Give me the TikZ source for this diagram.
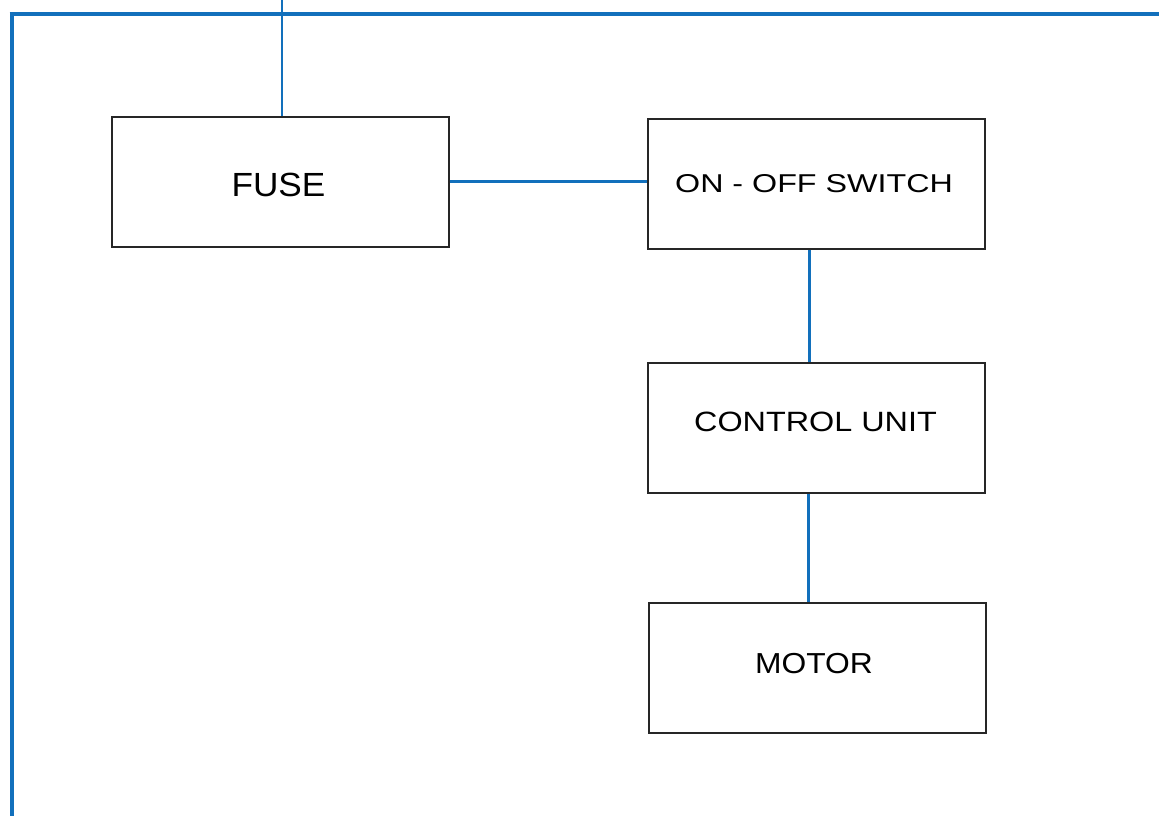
\documentclass[tikz,border=0pt]{standalone}
\usepackage{fontspec}
\setmainfont{Liberation Sans}
\newfontfamily\fuseFont[FakeStretch=1.05]{Liberation Sans}
\newfontfamily\swFont[FakeStretch=1.25]{Liberation Sans}
\newfontfamily\cuFont[FakeStretch=1.16]{Liberation Sans}
\newfontfamily\moFont[FakeStretch=1.10]{Liberation Sans}
\definecolor{wire}{RGB}{18,112,188}
\tikzset{
  blockbox/.style={draw=black!85, line width=2pt, minimum width=337pt, minimum height=130pt, inner sep=0pt},
  blocktext/.style={anchor=base, inner sep=0pt, text=black},
  wireline/.style={draw=wire, line width=3pt},
  frameline/.style={draw=wire, line width=4.5pt},
}
\begin{document}
\begin{tikzpicture}[x=1pt,y=-1pt]
\useasboundingbox (0,0) rectangle (1159,816);
\fill[white] (0,0) rectangle (1159,816);
% blocks
\node[blockbox] (fuse) at (280,181.5) {};
\node[blockbox] (sw) at (816.5,183.5) {};
\node[blockbox] (cu) at (816.5,427.5) {};
\node[blockbox] (mo) at (817.5,667.5) {};
% texts
\node[blocktext, font=\fuseFont\fontsize{33.5}{36}\selectfont] (fuseT) at (278.5,196.5) {FUSE};
\node[blocktext, font=\swFont\fontsize{25.8}{28}\selectfont] (swT) at (814,192) {ON - OFF SWITCH};
\node[blocktext, font=\cuFont\fontsize{27.9}{30}\selectfont] (cuT) at (815.5,431.5) {CONTROL UNIT};
\node[blocktext, font=\moFont\fontsize{28.9}{31}\selectfont] (moT) at (814,673) {MOTOR};
% frame
\coordinate (tl) at (12,14);
\coordinate (tr) at (1159,14);
\coordinate (bl) at (12,816);
\coordinate (feed) at (282,0);
\coordinate (col) at (809,0);
\draw[frameline] (tr) -- (tl) -- (bl);
\draw[frameline] (tl) ++(-2.5,0) -- (tl);
% connectors
\draw[wire, line width=2.5pt] (feed) -- (feed |- fuse.north);
\draw[wireline] (fuse.east) -- (fuse.east -| sw.west);
\draw[wireline] (col |- sw.south) -- (col |- cu.north);
\draw[wireline] (col |- cu.south) ++(-1,0) -- ([xshift=-1pt]col |- mo.north);
\end{tikzpicture}
\end{document}
